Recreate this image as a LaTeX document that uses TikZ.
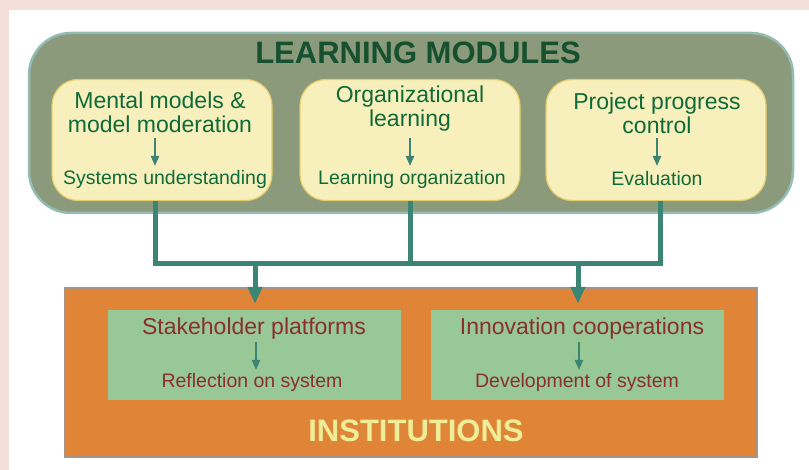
\documentclass[tikz,border=0pt]{standalone}
\usepackage{fontspec}
\setmainfont{Liberation Sans}
\usetikzlibrary{arrows.meta,positioning,calc}
\definecolor{pinkbg}{HTML}{F4E0D8}
\definecolor{outerfill}{HTML}{8A9A7A}
\definecolor{outerline}{HTML}{94BCB4}
\definecolor{titlegreen}{HTML}{16502F}
\definecolor{yellowfill}{HTML}{F8F0BC}
\definecolor{yellowline}{HTML}{E4CC6A}
\definecolor{boxtext}{HTML}{0F6A3A}
\definecolor{teal}{HTML}{3C8474}
\definecolor{orangefill}{HTML}{E08538}
\definecolor{orangeline}{HTML}{A89484}
\definecolor{greenfill}{HTML}{98C896}
\definecolor{redtext}{HTML}{8A2E2E}
\definecolor{insttext}{HTML}{EEEE98}
\tikzset{
  modbox/.style={draw=yellowline, line width=1.2pt, fill=yellowfill, rounded corners=26pt, minimum width=220pt, minimum height=121pt, inner sep=0pt},
  instbox/.style={fill=greenfill, minimum width=293pt, minimum height=90pt, inner sep=0pt},
  toptext/.style={text=boxtext, font=\fontsize{23}{24}\selectfont, align=center, inner sep=0pt},
  subtext/.style={text=boxtext, font=\fontsize{19.5}{20}\selectfont, inner sep=0pt},
  redmain/.style={text=redtext, font=\fontsize{23}{24}\selectfont, inner sep=0pt},
  redsub/.style={text=redtext, font=\fontsize{19.5}{20}\selectfont, inner sep=0pt},
  smallarrow/.style={draw=teal, line width=2pt, -{Triangle[width=8pt,length=10pt]}},
  bigline/.style={draw=teal, line width=5pt, line join=miter},
  bigarrow/.style={bigline, -{Triangle[width=14pt,length=17pt]}},
  bigtitle/.style={font=\bfseries\fontsize{31}{32}\selectfont, inner sep=0pt}
}
\begin{document}
\begin{tikzpicture}[x=1pt,y=-1pt]
\useasboundingbox (0,0) rectangle (809,470);
\fill[pinkbg] (0,0) rectangle (809,470);
\fill[white] (9,10) rectangle (809,470);
% outer learning modules box
\node[draw=outerline, line width=2.5pt, fill=outerfill, rounded corners=42pt, minimum width=764pt, minimum height=180pt, inner sep=0pt] (outer) at (411,123) {};
\node[bigtitle, text=titlegreen] (title) at (418,53) {LEARNING MODULES};
% module boxes
\node[modbox] (m1) at (162,140) {};
\node[modbox] (m2) at (410,140) {};
\node[modbox] (m3) at (656,140) {};
\node[toptext] (m1a) at (160,112) {Mental models \&\\model moderation};
\node[toptext] (m2a) at (410,109) {Organizational\\learning};
\node[toptext] (m3a) at (657,113) {Project progress\\control};
\node[subtext] (m1b) at (165,179) {Systems understanding};
\node[subtext] (m2b) at (412,179) {Learning organization};
\node[subtext] (m3b) at (657,179) {Evaluation};
\coordinate (a1s) at (155,138); \coordinate (a1e) at (155,166);
\coordinate (a2s) at (410,138); \coordinate (a2e) at (410,166);
\coordinate (a3s) at (657,138); \coordinate (a3e) at (657,166);
\draw[smallarrow] (a1s) -- (a1e);
\draw[smallarrow] (a2s) -- (a2e);
\draw[smallarrow] (a3s) -- (a3e);
% institutions
\node[draw=orangeline, line width=1.5pt, fill=orangefill, minimum width=692pt, minimum height=169pt, inner sep=0pt] (inst) at (411,372.5) {};
\node[instbox] (s1) at (254.5,355) {};
\node[instbox] (s2) at (577.5,355) {};
\node[redmain] (s1a) at (254,329) {Stakeholder platforms};
\node[redmain] (s2a) at (582,329) {Innovation cooperations};
\node[redsub] (s1b) at (252,382) {Reflection on system};
\node[redsub] (s2b) at (577,382) {Development of system};
\coordinate (b1s) at (256,342); \coordinate (b1e) at (256,370);
\coordinate (b2s) at (579,342); \coordinate (b2e) at (579,370);
\draw[smallarrow] (b1s) -- (b1e);
\draw[smallarrow] (b2s) -- (b2e);
\node[bigtitle, text=insttext] (insttitle) at (416,431) {INSTITUTIONS};
% connectors
\coordinate (j1) at (155,264);
\coordinate (j2) at (410,264);
\coordinate (j3) at (660,264);
\coordinate (d1) at (255,264);
\coordinate (d2) at (578,264);
\draw[bigline] ([xshift=-7pt]m1.south) -- (j1) -- (j3) -- ([xshift=4pt]m3.south);
\draw[bigline] (m2.south) -- (j2);
\draw[bigarrow] (d1) -- ([xshift=0.5pt,yshift=6pt]s1.north);
\draw[bigarrow] (d2) -- ([xshift=0.5pt,yshift=6pt]s2.north);
\end{tikzpicture}
\end{document}
